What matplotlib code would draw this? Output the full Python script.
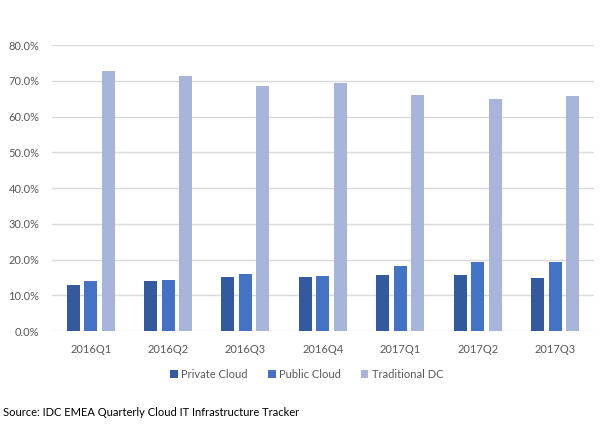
import matplotlib
matplotlib.use("Agg")
import matplotlib.pyplot as plt
import numpy as np
from matplotlib.ticker import FuncFormatter

categories = ["2016Q1", "2016Q2", "2016Q3", "2016Q4", "2017Q1", "2017Q2", "2017Q3"]
private_cloud = [12.8, 14.0, 15.2, 15.2, 15.7, 15.7, 14.8]
public_cloud = [14.0, 14.2, 16.0, 15.5, 18.1, 19.2, 19.2]
traditional_dc = [72.7, 71.3, 68.6, 69.3, 66.0, 64.9, 65.7]
series_names = ["Private Cloud", "Public Cloud", "Traditional DC"]
colors = ["#335A9E", "#4472C4", "#A7B5DA"]

plt.rcParams['font.family'] = ['Lato', 'DejaVu Sans']

fig = plt.figure(figsize=(6.11, 4.28), dpi=100)
ax = fig.add_axes([0.085, 0.2266, 0.887, 0.668])

x = np.arange(len(categories))
w = 0.168
pitch = 0.226
for i, (vals, name, c) in enumerate(zip([private_cloud, public_cloud, traditional_dc], series_names, colors)):
    ax.bar(x + (i - 1) * pitch, [v / 100 for v in vals], width=w, color=c, label=name, zorder=3)

ax.set_xlim(-0.5, len(categories) - 0.5)
ax.set_ylim(0, 0.8)
ax.set_yticks(np.arange(0, 0.81, 0.1))
ax.yaxis.set_major_formatter(FuncFormatter(lambda v, p: f"{v*100:.1f}%"))
ax.set_xticks(x)
ax.set_xticklabels(categories)
ax.grid(axis='y', color='#D9D9D9', linewidth=1, zorder=0)
for s in ax.spines.values():
    s.set_visible(False)
ax.tick_params(axis='both', length=0, labelsize=8, labelcolor='#595959')
ax.tick_params(axis='x', pad=9)
ax.tick_params(axis='y', pad=9)

leg = fig.legend(loc='center', bbox_to_anchor=(0.502, 0.126), ncol=3, frameon=False,
                 fontsize=8, handlelength=0.7, handleheight=0.7, handletextpad=0.3,
                 columnspacing=1.8)
for t in leg.get_texts():
    t.set_color('#595959')

fig.text(0.005, 0.037, "Source: IDC EMEA Quarterly Cloud IT Infrastructure Tracker",
         fontsize=8, color='#000000', ha='left', va='center')

fig.savefig("out.png", dpi=100)
